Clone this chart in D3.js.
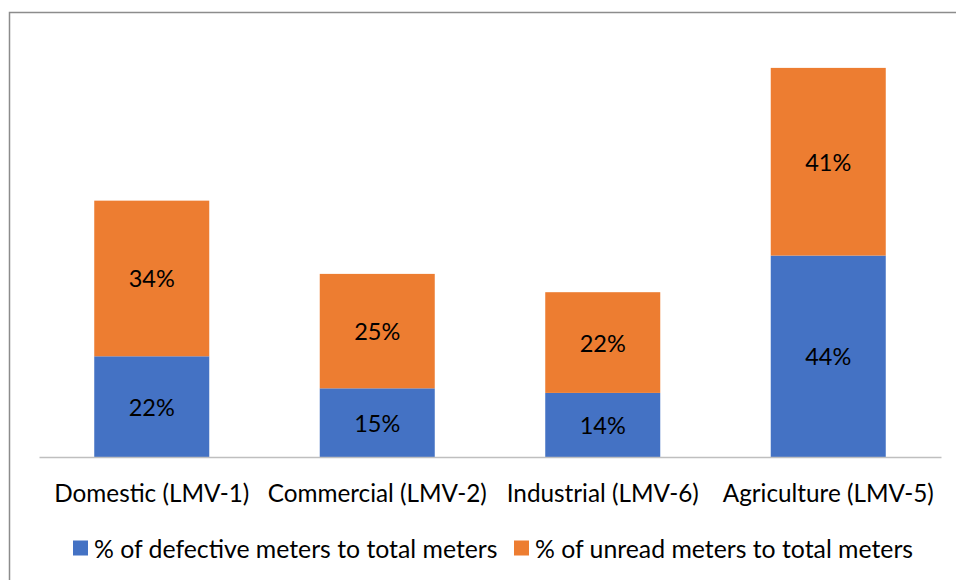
<!DOCTYPE html>
<html>
<head>
<meta charset="utf-8">
<script src="https://cdn.jsdelivr.net/npm/d3@7"></script>
<style>
  html, body { margin: 0; padding: 0; background: #fff; }
  svg { display: block; }
  text { font-family: Lato, "Open Sans", "Liberation Sans", sans-serif; fill: #000; }
</style>
</head>
<body>
<svg id="chart" width="956" height="580"></svg>
<script>
// Meter status by consumer category (percent of total meters)
const categories = ["Domestic (LMV-1)", "Commercial (LMV-2)", "Industrial (LMV-6)", "Agriculture (LMV-5)"];
const defective = [22, 15, 14, 44];
const unread = [34, 25, 22, 41];
const seriesNames = ["% of defective meters to total meters", "% of unread meters to total meters"];
const seriesColors = ["#4472C4", "#ED7D31"];

const W = 956, H = 580;
const svg = d3.select("#chart");

// outer chart frame
svg.append("path")
  .attr("d", `M9.5,${H} V12.5 H${W}`)
  .attr("fill", "none")
  .attr("stroke", "#8c8c8c")
  .attr("stroke-width", 1.5);

const plot = { left: 39, right: 941, top: 45, bottom: 457 };

const x = d3.scaleBand()
  .domain(categories)
  .range([plot.left, plot.right])
  .paddingInner(0.49)
  .paddingOuter(0.245);

const y = d3.scaleLinear()
  .domain([0, 90])
  .range([plot.bottom, plot.top]);

const rows = categories.map((c, i) => ({ category: c, defective: defective[i], unread: unread[i] }));
const stacked = d3.stack().keys(["defective", "unread"])(rows);

const layers = svg.append("g").selectAll("g")
  .data(stacked)
  .join("g")
  .attr("fill", (d, i) => seriesColors[i]);

layers.selectAll("rect")
  .data(d => d)
  .join("rect")
  .attr("x", d => x(d.data.category))
  .attr("width", x.bandwidth())
  .attr("y", d => y(d[1]))
  .attr("height", d => y(d[0]) - y(d[1]));

// value labels centred in each segment
layers.selectAll("text")
  .data(d => d.map(v => ({ v, key: d.key })))
  .join("text")
  .attr("x", d => x(d.v.data.category) + x.bandwidth() / 2)
  .attr("y", d => (y(d.v[0]) + y(d.v[1])) / 2)
  .attr("text-anchor", "middle")
  .attr("dominant-baseline", "central")
  .attr("font-size", 23.5)
  .text(d => d.v.data[d.key] + "%");

// category axis
const axis = svg.append("g")
  .attr("transform", `translate(0,${plot.bottom})`)
  .call(d3.axisBottom(x).tickSize(0).tickSizeOuter(0));
axis.select(".domain").attr("stroke", "#bfbfbf").attr("stroke-width", 1.3);
axis.selectAll(".tick text")
  .attr("y", 35)
  .attr("dy", null)
  .attr("dominant-baseline", "central")
  .attr("font-size", 24.3)
  .attr("font-family", "Lato, 'Open Sans', sans-serif")
  .attr("fill", "#000");

// legend
const legendItems = [
  { name: seriesNames[0], color: seriesColors[0], x: 73 },
  { name: seriesNames[1], color: seriesColors[1], x: 514 }
];
const legend = svg.append("g").selectAll("g")
  .data(legendItems)
  .join("g")
  .attr("transform", d => `translate(${d.x},548)`);
legend.append("rect")
  .attr("x", 0).attr("y", -7.5)
  .attr("width", 15).attr("height", 15)
  .attr("fill", d => d.color);
legend.append("text")
  .attr("x", 21)
  .attr("dominant-baseline", "central")
  .attr("font-size", 24.8)
  .text(d => d.name);
</script>
</body>
</html>
